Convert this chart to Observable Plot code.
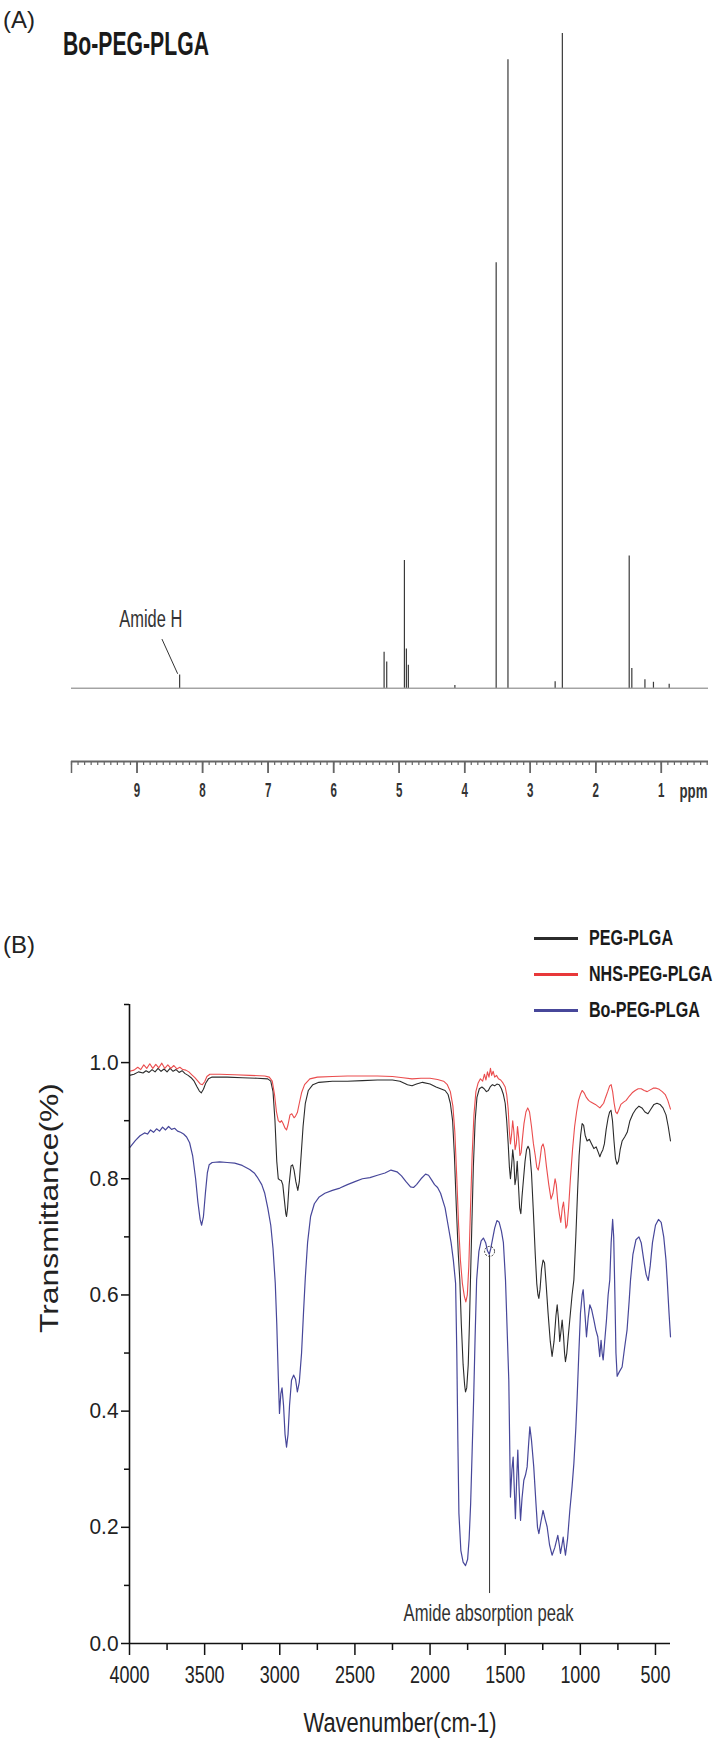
<!DOCTYPE html>
<html><head><meta charset="utf-8">
<script src="https://cdn.jsdelivr.net/npm/d3@7"></script>
<script src="https://cdn.jsdelivr.net/npm/@observablehq/plot@0.6"></script>
<style>
html,body{margin:0;padding:0;background:#fff;}
#page{position:relative;width:720px;height:1746px;overflow:hidden;font-family:"Liberation Sans",Arial,Helvetica,sans-serif;color:#222;}
.lbl{position:absolute;white-space:nowrap;line-height:1;display:inline-block;}
#nmr{position:absolute;left:0;top:0;}
#ir{position:absolute;left:0;top:860px;}
.sw{position:absolute;height:3px;width:44px;}
</style></head><body>
<div id="page">
  <div id="nmr"></div>
  <div id="ir"></div>
</div>
<script>
// ---------- Panel A data : 1H NMR peaks ----------
const nmrPpm    = [8.35, 5.23, 5.19, 4.92, 4.89, 4.86, 4.15, 3.52, 3.34, 2.62, 2.51, 1.49, 1.45, 1.25, 1.12, 0.88];
const nmrHeight = [2.0,  5.5,  4.0,  19.5, 6.0,  3.5,  0.4,  65,   96,   1.0,  100,  20.2, 3.0,  1.3,  0.9,  0.6];
const nmrLabelTicks = [9, 8, 7, 6, 5, 4, 3, 2, 1];
const nmrMajorTicks = [10, 9, 8, 7, 6, 5, 4, 3, 2, 1];
const nmrMinorTicks = d3.range(3, 101).map(d => d / 10);
const nmrAnnot = [{x: 8.79, y: 10.5, text: "Amide H"}];
const nmrAnnotLine = [{x1: 8.62, y1: 7.5, x2: 8.38, y2: 2.2}];

// ---------- Panel B data : FTIR spectra (wavenumber, transmittance) ----------
const seriesNames = ["PEG-PLGA", "NHS-PEG-PLGA", "Bo-PEG-PLGA"];
const seriesColors = ["#2b2b2b", "#e8383a", "#47479a"];

const pegPlga = [[4000,0.978],[3970,0.98],[3940,0.984],[3910,0.982],[3890,0.986],[3870,0.983],[3850,0.988],[3830,0.984],[3810,0.99],[3790,0.985],[3770,0.989],[3750,0.984],[3730,0.99],[3710,0.985],[3690,0.988],[3670,0.983],[3650,0.986],[3630,0.981],[3610,0.978],[3590,0.974],[3570,0.968],[3550,0.958],[3535,0.951],[3522,0.948],[3508,0.954],[3492,0.965],[3475,0.972],[3450,0.975],[3350,0.975],[3250,0.974],[3150,0.973],[3080,0.972],[3060,0.968],[3045,0.95],[3032,0.9],[3020,0.83],[3010,0.8],[3000,0.798],[2990,0.797],[2980,0.79],[2970,0.765],[2960,0.74],[2955,0.735],[2948,0.75],[2938,0.79],[2925,0.822],[2915,0.824],[2905,0.815],[2893,0.795],[2880,0.78],[2870,0.795],[2858,0.84],[2845,0.89],[2830,0.93],[2810,0.952],[2780,0.962],[2740,0.966],[2650,0.968],[2550,0.968],[2450,0.969],[2350,0.97],[2250,0.97],[2200,0.968],[2150,0.962],[2120,0.96],[2090,0.963],[2050,0.966],[2000,0.963],[1960,0.958],[1930,0.955],[1900,0.952],[1880,0.945],[1865,0.93],[1850,0.9],[1838,0.84],[1825,0.75],[1812,0.67],[1802,0.626],[1792,0.55],[1780,0.48],[1770,0.445],[1764,0.433],[1756,0.44],[1746,0.48],[1738,0.55],[1731,0.626],[1722,0.72],[1712,0.82],[1700,0.9],[1688,0.94],[1672,0.955],[1655,0.958],[1640,0.955],[1625,0.95],[1612,0.952],[1600,0.958],[1585,0.962],[1570,0.96],[1555,0.963],[1540,0.962],[1525,0.955],[1512,0.945],[1500,0.93],[1490,0.9],[1480,0.86],[1472,0.82],[1465,0.8],[1458,0.82],[1450,0.85],[1442,0.83],[1435,0.79],[1428,0.8],[1420,0.83],[1412,0.79],[1404,0.75],[1396,0.74],[1388,0.77],[1378,0.8],[1368,0.83],[1358,0.85],[1348,0.856],[1338,0.85],[1325,0.81],[1312,0.74],[1300,0.67],[1290,0.62],[1282,0.6],[1276,0.594],[1268,0.61],[1258,0.645],[1248,0.66],[1238,0.655],[1228,0.62],[1215,0.57],[1200,0.52],[1188,0.494],[1175,0.52],[1162,0.565],[1154,0.583],[1146,0.56],[1137,0.52],[1130,0.535],[1121,0.557],[1112,0.53],[1105,0.5],[1099,0.485],[1090,0.5],[1080,0.53],[1066,0.569],[1055,0.6],[1043,0.626],[1030,0.7],[1018,0.78],[1008,0.84],[998,0.875],[988,0.895],[978,0.892],[968,0.875],[955,0.865],[940,0.868],[925,0.86],[910,0.852],[895,0.855],[880,0.845],[870,0.838],[860,0.845],[850,0.85],[840,0.86],[828,0.885],[815,0.905],[805,0.915],[796,0.918],[786,0.9],[776,0.865],[766,0.835],[756,0.825],[746,0.83],[735,0.85],[722,0.865],[705,0.872],[688,0.88],[670,0.9],[650,0.912],[630,0.92],[610,0.925],[590,0.922],[570,0.915],[550,0.912],[530,0.92],[510,0.928],[490,0.93],[470,0.928],[450,0.922],[430,0.91],[415,0.89],[400,0.865]];

const nhsPegPlga = [[4000,0.985],[3970,0.987],[3945,0.992],[3925,0.988],[3905,0.996],[3885,0.99],[3865,0.998],[3845,0.99],[3825,0.997],[3805,0.991],[3785,0.999],[3765,0.99],[3745,0.996],[3725,0.99],[3705,0.995],[3685,0.989],[3665,0.992],[3645,0.988],[3625,0.987],[3605,0.984],[3585,0.979],[3565,0.974],[3545,0.968],[3528,0.963],[3515,0.962],[3500,0.967],[3485,0.976],[3465,0.98],[3400,0.98],[3300,0.979],[3200,0.978],[3100,0.977],[3070,0.975],[3050,0.968],[3035,0.945],[3022,0.915],[3010,0.9],[2998,0.897],[2988,0.9],[2978,0.895],[2965,0.887],[2955,0.884],[2945,0.893],[2932,0.91],[2920,0.912],[2905,0.905],[2895,0.908],[2883,0.914],[2870,0.93],[2855,0.948],[2835,0.962],[2800,0.972],[2750,0.975],[2650,0.976],[2550,0.977],[2450,0.977],[2350,0.977],[2250,0.976],[2180,0.974],[2120,0.972],[2060,0.973],[2000,0.973],[1950,0.971],[1910,0.968],[1885,0.962],[1865,0.95],[1848,0.925],[1835,0.88],[1822,0.8],[1810,0.72],[1798,0.66],[1785,0.62],[1772,0.598],[1762,0.588],[1752,0.6],[1742,0.65],[1732,0.74],[1720,0.84],[1708,0.91],[1695,0.95],[1680,0.965],[1665,0.972],[1650,0.968],[1638,0.98],[1628,0.97],[1618,0.984],[1608,0.975],[1598,0.99],[1590,0.978],[1580,0.985],[1570,0.975],[1558,0.978],[1545,0.972],[1530,0.97],[1515,0.965],[1500,0.958],[1490,0.945],[1480,0.92],[1472,0.88],[1465,0.86],[1458,0.875],[1450,0.9],[1442,0.88],[1434,0.85],[1426,0.86],[1418,0.89],[1410,0.87],[1402,0.84],[1394,0.845],[1385,0.87],[1375,0.895],[1362,0.915],[1350,0.922],[1338,0.915],[1325,0.89],[1312,0.86],[1300,0.84],[1290,0.82],[1280,0.815],[1270,0.83],[1258,0.855],[1248,0.86],[1238,0.85],[1225,0.82],[1210,0.79],[1195,0.765],[1182,0.775],[1168,0.8],[1160,0.79],[1150,0.76],[1140,0.74],[1130,0.725],[1120,0.75],[1112,0.76],[1104,0.74],[1096,0.715],[1088,0.72],[1078,0.75],[1066,0.8],[1052,0.85],[1038,0.89],[1025,0.915],[1012,0.935],[1000,0.945],[988,0.952],[975,0.948],[960,0.94],[945,0.935],[930,0.932],[915,0.93],[900,0.928],[885,0.925],[870,0.922],[858,0.926],[845,0.93],[832,0.94],[818,0.95],[805,0.96],[795,0.962],[785,0.95],[775,0.93],[765,0.915],[755,0.912],[745,0.918],[730,0.928],[712,0.932],[695,0.935],[675,0.942],[655,0.948],[635,0.952],[615,0.955],[595,0.955],[575,0.952],[555,0.95],[535,0.953],[515,0.956],[495,0.956],[475,0.954],[455,0.95],[435,0.945],[418,0.935],[400,0.92]];

const boPegPlga = [[4000,0.853],[3960,0.866],[3930,0.874],[3900,0.879],[3880,0.877],[3860,0.884],[3840,0.88],[3820,0.886],[3800,0.882],[3780,0.889],[3760,0.884],[3740,0.89],[3720,0.885],[3700,0.887],[3680,0.882],[3660,0.88],[3640,0.877],[3620,0.872],[3600,0.862],[3580,0.84],[3560,0.8],[3545,0.76],[3530,0.73],[3520,0.72],[3508,0.735],[3495,0.775],[3482,0.81],[3470,0.824],[3450,0.828],[3400,0.829],[3350,0.828],[3300,0.827],[3250,0.823],[3200,0.816],[3170,0.81],[3150,0.803],[3120,0.79],[3100,0.775],[3080,0.75],[3060,0.72],[3045,0.68],[3030,0.62],[3020,0.55],[3010,0.46],[3002,0.396],[2993,0.43],[2985,0.44],[2975,0.41],[2965,0.36],[2955,0.338],[2945,0.36],[2935,0.41],[2922,0.453],[2908,0.462],[2895,0.455],[2883,0.433],[2870,0.45],[2855,0.5],[2842,0.57],[2830,0.63],[2815,0.69],[2795,0.735],[2770,0.757],[2740,0.768],[2700,0.775],[2650,0.78],[2600,0.784],[2550,0.79],[2500,0.795],[2450,0.8],[2400,0.802],[2350,0.806],[2300,0.81],[2260,0.815],[2220,0.812],[2190,0.805],[2160,0.795],[2130,0.786],[2110,0.785],[2090,0.79],[2060,0.8],[2030,0.808],[2010,0.806],[1990,0.798],[1970,0.79],[1950,0.785],[1930,0.775],[1900,0.75],[1880,0.72],[1860,0.69],[1845,0.66],[1830,0.62],[1822,0.5],[1815,0.35],[1808,0.224],[1795,0.16],[1780,0.14],[1764,0.134],[1750,0.145],[1740,0.18],[1730,0.24],[1720,0.33],[1710,0.42],[1700,0.53],[1690,0.626],[1675,0.675],[1660,0.693],[1645,0.698],[1630,0.69],[1618,0.676],[1606,0.67],[1596,0.68],[1585,0.695],[1570,0.715],[1555,0.728],[1540,0.725],[1525,0.71],[1512,0.69],[1498,0.626],[1476,0.453],[1465,0.252],[1455,0.3],[1447,0.321],[1440,0.27],[1432,0.215],[1424,0.28],[1416,0.333],[1408,0.27],[1398,0.212],[1388,0.25],[1376,0.281],[1365,0.29],[1354,0.304],[1345,0.34],[1336,0.373],[1325,0.35],[1310,0.304],[1295,0.24],[1285,0.2],[1276,0.189],[1262,0.21],[1248,0.229],[1235,0.215],[1221,0.201],[1205,0.17],[1188,0.152],[1170,0.165],[1150,0.186],[1140,0.17],[1132,0.155],[1122,0.17],[1114,0.183],[1106,0.165],[1099,0.152],[1085,0.18],[1070,0.229],[1055,0.27],[1043,0.31],[1030,0.37],[1021,0.425],[1010,0.5],[999,0.569],[988,0.6],[981,0.609],[970,0.57],[959,0.528],[948,0.56],[937,0.583],[925,0.575],[910,0.557],[897,0.54],[884,0.528],[877,0.51],[871,0.494],[866,0.51],[862,0.522],[855,0.5],[848,0.488],[838,0.52],[826,0.557],[815,0.6],[804,0.626],[795,0.69],[785,0.73],[778,0.7],[770,0.6],[763,0.5],[755,0.46],[740,0.468],[722,0.476],[705,0.51],[689,0.54],[675,0.59],[666,0.626],[650,0.67],[630,0.695],[610,0.7],[595,0.69],[578,0.66],[562,0.635],[548,0.625],[535,0.65],[520,0.69],[500,0.72],[480,0.73],[462,0.725],[445,0.7],[430,0.66],[422,0.626],[410,0.57],[400,0.528]];

const irXMajor = [4000, 3500, 3000, 2500, 2000, 1500, 1000, 500];
const irXMinor = [3750, 3250, 2750, 2250, 1750, 1250, 750];
const irYMajor = [0, 0.2, 0.4, 0.6, 0.8, 1.0];
const irYMinor = [0.1, 0.3, 0.5, 0.7, 0.9, 1.1];
const amideMark = [{wn: 1604, t1: 0.086, t2: 0.668, label: "Amide absorption peak", labelWn: 1611, labelT: 0.052, ringT: 0.675}];

// ---------- helpers ----------
const FONT = '"Liberation Sans", Arial, Helvetica, sans-serif';
function toRows(arr, name) { return arr.map(([wn, t]) => ({wn, t, name})); }
// horizontally squeeze an SVG text about its own anchor point (x only)
function squeezeSvg(t, f) {
  const x = parseFloat(t.getAttribute("x")) || 0;
  const tr = t.getAttribute("transform") || "";
  t.setAttribute("transform", `${tr} translate(${x},0) scale(${f},1) translate(${-x},0)`.trim());
}
function widthSvg(t, w) { const L = t.getComputedTextLength(); if (L > 0) squeezeSvg(t, w / L); }
function axisTexts(svg, label) { return Array.from(svg.querySelectorAll(`g[aria-label="${label}"] text`)); }
function byContent(svg, str) { return Array.from(svg.querySelectorAll("text")).filter(t => t.textContent === str); }

// ---------- Panel A ----------
const peaks = nmrPpm.map((p, i) => ({ppm: p, h: nmrHeight[i]}));
const nmrYMin = -11.2;
const plotA = Plot.plot({
  width: 720, height: 840,
  marginLeft: 71, marginRight: 12, marginTop: 33, marginBottom: 79,
  x: {domain: [10, 0.28], axis: null},
  y: {domain: [nmrYMin, 100], axis: null},
  style: {fontFamily: FONT, background: "transparent", color: "#333", overflow: "visible"},
  marks: [
    Plot.ruleY([0], {x1: 10, x2: 0.28, stroke: "#777", strokeWidth: 1}),
    Plot.ruleX(peaks, {x: "ppm", y1: 0, y2: "h", stroke: "#3a3a3a", strokeWidth: 1.2}),
    Plot.ruleY([nmrYMin], {stroke: "#666", strokeWidth: 2}),
    Plot.axisX({ticks: nmrMinorTicks, tickSize: 4, tickFormat: () => "", stroke: "#666", strokeWidth: 1.2, label: null}),
    Plot.axisX({ticks: nmrMajorTicks, tickSize: 12, tickFormat: () => "", stroke: "#666", strokeWidth: 1.5, label: null}),
    Plot.axisX({ticks: nmrLabelTicks, tickSize: 12, tickPadding: 9, tickFormat: d => String(d), fontSize: 21, fontWeight: "bold", stroke: "#666", strokeWidth: 1.5, label: null}),
    Plot.text(["ppm"], {frameAnchor: "bottom-right", dx: -29, dy: 22, textAnchor: "start", lineAnchor: "top", fontSize: 21, fontWeight: "bold", fill: "#333"}),
    Plot.link(nmrAnnotLine, {x1: "x1", y1: "y1", x2: "x2", y2: "y2", stroke: "#333", strokeWidth: 1}),
    Plot.text(nmrAnnot, {x: "x", y: "y", text: "text", fontSize: 24, fill: "#333"})
  ]
});
document.getElementById("nmr").appendChild(plotA);

// ---------- Panel B ----------
const irRows = [
  toRows(pegPlga, seriesNames[0]),
  toRows(nhsPegPlga, seriesNames[1]),
  toRows(boPegPlga, seriesNames[2])
];
const plotB = Plot.plot({
  width: 720, height: 886,
  marginLeft: 129, marginRight: 50, marginTop: 144, marginBottom: 103,
  x: {domain: [4000, 400], axis: null},
  y: {domain: [0, 1.1], axis: null},
  style: {fontFamily: FONT, background: "transparent", color: "#222", overflow: "visible"},
  marks: [
    Plot.line(irRows[0], {x: "wn", y: "t", stroke: seriesColors[0], strokeWidth: 1.1}),
    Plot.line(irRows[1], {x: "wn", y: "t", stroke: seriesColors[1], strokeWidth: 1.1, strokeOpacity: 0.9}),
    Plot.line(irRows[2], {x: "wn", y: "t", stroke: seriesColors[2], strokeWidth: 1.2}),
    Plot.ruleX(amideMark, {x: "wn", y1: "t1", y2: "t2", stroke: "#333", strokeWidth: 1}),
    Plot.dot(amideMark, {x: "wn", y: "ringT", r: 5, stroke: "#333", strokeWidth: 1, strokeDasharray: "2,1.5", fill: "none"}),
    Plot.text(amideMark, {x: "labelWn", y: "labelT", text: "label", fontSize: 24, fill: "#333"}),
    Plot.ruleX([4000], {stroke: "#111", strokeWidth: 1.6}),
    Plot.ruleY([0], {stroke: "#111", strokeWidth: 1.6}),
    Plot.axisY({ticks: irYMinor, tickSize: 5, tickFormat: () => "", stroke: "#111", strokeWidth: 1.5, label: null}),
    Plot.axisY({ticks: irYMajor, tickSize: 8, tickPadding: 3, tickFormat: d3.format(".1f"), fontSize: 22, stroke: "#111", strokeWidth: 1.5, label: null}),
    Plot.axisX({ticks: irXMinor, tickSize: 7, tickFormat: () => "", stroke: "#111", strokeWidth: 1.5, label: null}),
    Plot.axisX({ticks: irXMajor, tickSize: 12, tickPadding: 11, tickFormat: d => String(d), fontSize: 23, stroke: "#111", strokeWidth: 1.5, label: null}),
    Plot.text(["Transmittance(%)"], {frameAnchor: "left", dx: -80, dy: 9, rotate: -90, fontSize: 25, fill: "#222"}),
    Plot.text(["Wavenumber(cm-1)"], {frameAnchor: "bottom", dy: 88, fontSize: 28, fill: "#222"})
  ]
});
document.getElementById("ir").appendChild(plotB);

// ---------- narrow-set lettering, as in the source figure ----------
axisTexts(plotA, "x-axis tick label").forEach(t => { if (t.textContent) squeezeSvg(t, 0.55); });
byContent(plotA, "ppm").forEach(t => widthSvg(t, 28));
byContent(plotA, "Amide H").forEach(t => widthSvg(t, 63));
byContent(plotB, "Amide absorption peak").forEach(t => widthSvg(t, 170));
axisTexts(plotB, "x-axis tick label").forEach(t => { if (t.textContent) squeezeSvg(t, 0.78); });
axisTexts(plotB, "y-axis tick label").forEach(t => { if (t.textContent) squeezeSvg(t, 0.95); });
byContent(plotB, "Transmittance(%)").forEach(t => widthSvg(t, 250));
byContent(plotB, "Wavenumber(cm-1)").forEach(t => widthSvg(t, 193));

// ---------- HTML labels: panel letters, NMR title, legend ----------
const page = document.getElementById("page");
function addLabel(text, opts) {
  const s = document.createElement("span");
  s.className = "lbl";
  s.textContent = text;
  s.style.fontSize = opts.size + "px";
  s.style.fontWeight = opts.bold ? "bold" : "normal";
  s.style.color = opts.color || "#222";
  s.style.left = opts.left + "px";
  s.style.top = (opts.cy - 0.4885 * opts.size) + "px";
  page.appendChild(s);
  const w = s.getBoundingClientRect().width;
  const f = opts.width ? opts.width / w : (opts.scale || 1);
  s.style.transformOrigin = "0 50%";
  s.style.transform = `scaleX(${f})`;
  return {el: s, natural: w};
}
addLabel("(A)", {size: 24, left: 3, cy: 20});
addLabel("Bo-PEG-PLGA", {size: 34, bold: true, left: 63, cy: 42.5, width: 146, color: "#1a1a1a"});
addLabel("(B)", {size: 24, left: 3, cy: 945});

const legendTop = 938, legendStep = 36, legendSize = 22;
let legendScale = null;
seriesNames.forEach((name, i) => {
  const cy = legendTop + i * legendStep;
  const sw = document.createElement("div");
  sw.className = "sw";
  sw.style.left = "534px";
  sw.style.top = (cy - 1.5) + "px";
  sw.style.background = seriesColors[i];
  page.appendChild(sw);
  const opts = {size: legendSize, bold: true, left: 589, cy, color: "#1a1a1a"};
  if (legendScale === null) {
    const r = addLabel(name, {...opts, width: 84});
    legendScale = 84 / r.natural;
  } else {
    addLabel(name, {...opts, scale: legendScale});
  }
});
</script>
</body></html>
